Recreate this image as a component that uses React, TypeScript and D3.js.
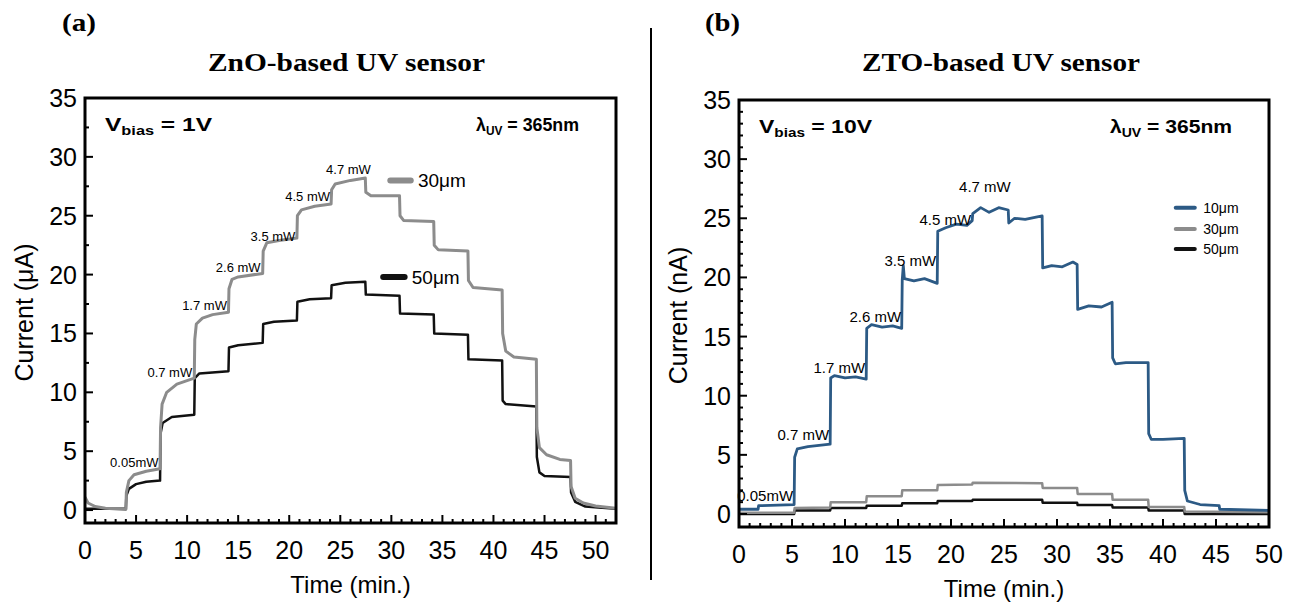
import React from 'react';
import * as d3 from 'd3';

const W = 1297;
const H = 612;

// tick values
const timeTicks = [0, 5, 10, 15, 20, 25, 30, 35, 40, 45, 50];
const currentTicks = [0, 5, 10, 15, 20, 25, 30, 35];

// (a) ZnO sensor, current in uA, [time min, current]
const zno30 = [
  [0, 1.1], [0.3, 0.6], [1, 0.3], [2, 0.15], [4, 0.05],
  [4.05, 1.5], [4.3, 2.5], [4.8, 3.0], [6, 3.3], [7.35, 3.5],
  [7.4, 7], [7.55, 9], [8, 10], [9, 10.7], [10.7, 11.2],
  [10.75, 14.5], [10.9, 15.8], [11.5, 16.3], [12.5, 16.6], [14.05, 16.8],
  [14.1, 18.8], [14.4, 19.6], [15, 19.8], [17.4, 20.1],
  [17.45, 22], [17.8, 22.7], [19, 22.9], [20.75, 23.1],
  [20.8, 25], [21.2, 25.5], [22.5, 25.8], [24.1, 26.0],
  [24.15, 27.2], [24.5, 27.7], [26, 28.0], [27.45, 28.2],
  [27.5, 27.0], [28, 26.7], [30.8, 26.7],
  [30.85, 25.0], [31.2, 24.6], [34.15, 24.5],
  [34.2, 22.5], [34.6, 22.1], [37.5, 22.0],
  [37.55, 19.5], [38, 18.9], [40.85, 18.7],
  [40.9, 15], [41.2, 13.5], [42, 13], [44.2, 12.8],
  [44.25, 7], [44.5, 5.3], [45.2, 4.7], [46.5, 4.3], [47.55, 4.2],
  [47.6, 2], [48, 1.0], [48.8, 0.6], [50, 0.35], [52, 0.15],
];
const zno50 = [
  [0, 0.1], [4.0, 0.1], [4.05, 1.2], [4.3, 1.8], [5, 2.2], [6, 2.4], [7.35, 2.5],
  [7.4, 6.5], [7.6, 7.4], [8.5, 7.9], [10.7, 8.1],
  [10.75, 11.2], [11.2, 11.6], [14.05, 11.8],
  [14.1, 13.8], [15, 14.0], [17.4, 14.2],
  [17.45, 15.8], [18.5, 16.0], [20.75, 16.1],
  [20.8, 17.7], [22, 17.9], [24.1, 18.0],
  [24.15, 19.1], [25.5, 19.3], [27.45, 19.4],
  [27.5, 18.3], [30.8, 18.2],
  [30.85, 16.7], [34.15, 16.6],
  [34.2, 15], [37.5, 14.9],
  [37.55, 12.8], [40.85, 12.7],
  [40.9, 9.3], [41.2, 9.0], [44.2, 8.8],
  [44.25, 4.5], [44.5, 3.2], [45, 2.9], [47.55, 2.8],
  [47.6, 1.5], [48, 0.7], [49, 0.3], [52, 0.1],
];
// power labels: [text, time of right end, current]
const znoPower = [
  ['0.05mW', 7.2, 4.0], ['0.7 mW', 10.5, 11.6], ['1.7 mW', 13.9, 17.3],
  ['2.6 mW', 17.2, 20.6], ['3.5 mW', 20.6, 23.2], ['4.5 mW', 24.0, 26.6],
];
const znoPeak = ['4.7 mW', 25.8, 28.9];

// (b) ZTO sensor, current in nA
const zto10 = [
  [0, 0.4], [1.8, 0.4], [1.85, 0.7], [5.2, 0.8],
  [5.25, 4.8], [5.5, 5.5], [6.5, 5.7], [8.6, 5.9],
  [8.65, 11.5], [9, 11.7], [10, 11.5], [11, 11.6], [12.0, 11.4],
  [12.05, 15.7], [12.5, 16.0], [13.5, 15.8], [14.5, 15.9], [15.35, 15.7],
  [15.4, 19.8], [15.5, 21.0], [15.6, 19.9], [16.5, 19.7], [17.5, 19.9], [18.7, 19.5],
  [18.75, 23.9], [19.5, 24.2], [20.5, 24.5], [21.5, 24.4], [22.0, 24.8],
  [22.05, 25.4], [22.8, 25.9], [23.6, 25.5], [24.5, 25.9], [25.4, 25.7],
  [25.45, 24.6], [26, 25.0], [27, 24.9], [28.6, 25.2],
  [28.65, 20.8], [29.5, 21.0], [30.5, 20.9], [31.5, 21.3], [31.9, 21.1],
  [31.95, 17.3], [33, 17.6], [34.2, 17.5], [35.2, 17.9],
  [35.25, 13.2], [35.5, 12.7], [36.5, 12.8], [38.6, 12.8],
  [38.65, 6.8], [38.9, 6.3], [40, 6.3], [42.0, 6.4],
  [42.05, 2], [42.3, 1.1], [43.5, 0.8], [45.3, 0.7],
  [45.35, 0.4], [50, 0.3],
];
const zto30 = [
  [0, 0.1], [5.2, 0.1], [5.25, 0.5], [8.6, 0.55], [8.65, 1.0], [12.0, 1.0],
  [12.05, 1.5], [15.35, 1.5], [15.4, 2.0], [18.7, 2.0], [18.75, 2.45], [22.0, 2.5],
  [22.05, 2.65], [28.6, 2.6], [28.65, 2.2], [31.9, 2.2], [31.95, 1.7], [35.2, 1.7],
  [35.25, 1.2], [38.6, 1.2], [38.65, 0.6], [42.0, 0.6], [42.05, 0.2], [50, 0.15],
];
const zto50 = [
  [0, 0.0], [5.2, 0.0], [5.25, 0.3], [8.6, 0.3], [8.65, 0.5], [12.0, 0.5],
  [12.05, 0.7], [15.35, 0.7], [15.4, 0.9], [18.7, 0.9], [18.75, 1.1], [22.0, 1.1],
  [22.05, 1.2], [28.6, 1.2], [28.65, 0.95], [31.9, 0.95], [31.95, 0.75], [35.2, 0.75],
  [35.25, 0.55], [38.6, 0.55], [38.65, 0.3], [42.0, 0.3], [42.05, 0.0], [50, 0.0],
];
const ztoPower = [
  ['0.05mW', 5.1, 1.4], ['0.7 mW', 8.5, 6.6], ['1.7 mW', 11.9, 12.3],
  ['2.6 mW', 15.3, 16.6], ['3.5 mW', 18.6, 21.3], ['4.5 mW', 21.9, 24.8],
];
const ztoPeak = ['4.7 mW', 23.2, 27.6];

const GRAY = '#8c8c8c';
const BLACK = '#111';
const BLUE = '#2c5a85';

const sans = "'Liberation Sans', Arial, sans-serif";
const serif = "'Liberation Serif', 'Times New Roman', serif";

type Series = { data: number[][]; color: string; width: number };

function Panel({ id, left, right, top, bottom, xMax, yMinorStep, series, power, peak, powerSize, vbias, vbiasLen, lambdaLen, unit, children }: any) {
  const x = d3.scaleLinear().domain([0, xMax]).range([left, right]);
  const y = d3.scaleLinear().domain([-1.1, 35]).range([bottom, top]);
  const line = d3.line<number[]>().x((d) => x(d[0])).y((d) => y(d[1]));
  const xMinor = d3.range(0, xMax + 0.001, 1).filter((v) => v % 5 !== 0);
  const yMinor = d3.range(0, 35, yMinorStep).filter((v) => v % 5 !== 0);
  const midX = (left + right) / 2;
  return (
    <g>
      <defs>
        <clipPath id={id}>
          <rect x={left} y={top} width={right - left} height={bottom - top} />
        </clipPath>
      </defs>
      <g clipPath={`url(#${id})`}>
        {series.map((s: Series, i: number) => (
          <path key={i} d={line(s.data) || ''} fill="none" stroke={s.color} strokeWidth={s.width} strokeLinejoin="round" />
        ))}
      </g>
      {/* ticks */}
      {timeTicks.filter((t) => t <= xMax).map((t) => (
        <g key={t}>
          <line x1={x(t)} x2={x(t)} y1={bottom} y2={bottom - 8} stroke="#000" strokeWidth={2} />
          <text x={x(t)} y={bottom + 36} textAnchor="middle" fontFamily={sans} fontSize={25}>{t}</text>
        </g>
      ))}
      {xMinor.map((t) => (
        <line key={t} x1={x(t)} x2={x(t)} y1={bottom} y2={bottom - 4} stroke="#000" strokeWidth={2} />
      ))}
      {currentTicks.map((v) => (
        <g key={v}>
          <line x1={left} x2={left + 8} y1={y(v)} y2={y(v)} stroke="#000" strokeWidth={2} />
          <text x={left - 8} y={y(v) + 9} textAnchor="end" fontFamily={sans} fontSize={25}>{v}</text>
        </g>
      ))}
      {yMinor.map((v) => (
        <line key={v} x1={left} x2={left + 4} y1={y(v)} y2={y(v)} stroke="#000" strokeWidth={2} />
      ))}
      <rect x={left} y={top} width={right - left} height={bottom - top} fill="none" stroke="#000" strokeWidth={3} />
      {/* power labels */}
      {power.map((p: any) => (
        <text key={p[0]} x={x(p[1])} y={y(p[2]) + 4} textAnchor="end" fontFamily={sans} fontSize={powerSize}>{p[0]}</text>
      ))}
      <text x={x(peak[1])} y={y(peak[2]) + 4} textAnchor="middle" fontFamily={sans} fontSize={powerSize}>{peak[0]}</text>
      {/* annotations */}
      <text x={left + 20} y={top + 33} fontFamily={sans} fontSize={18} fontWeight="bold" textLength={vbiasLen} lengthAdjust="spacingAndGlyphs">
        V<tspan fontSize={12} dy={4}>bias</tspan><tspan dy={-4}> = {vbias}</tspan>
      </text>
      <text x={right - 37 - lambdaLen} y={top + 33} fontFamily={sans} fontSize={18} fontWeight="bold" textLength={lambdaLen} lengthAdjust="spacingAndGlyphs">
        λ<tspan fontSize={12} dy={4}>UV</tspan><tspan dy={-4}> = 365nm</tspan>
      </text>
      <text x={midX} y={bottom + 70} textAnchor="middle" fontFamily={sans} fontSize={24}>Time (min.)</text>
      <text transform={`translate(${left - 52},${(top + bottom) / 2 + 2}) rotate(-90)`} textAnchor="middle" fontFamily={sans} fontSize={25}>
        Current ({unit})
      </text>
      {children && children(x, y)}
    </g>
  );
}

export default function App() {
  return (
    <svg width={W} height={H} viewBox={`0 0 ${W} ${H}`} style={{ position: 'absolute', left: 0, top: 0, background: '#fff' }}>
      <rect width={W} height={H} fill="#fff" />
      <text x={62} y={31} fontFamily={serif} fontSize={26} fontWeight="bold" textLength={34} lengthAdjust="spacingAndGlyphs">(a)</text>
      <text x={705} y={31} fontFamily={serif} fontSize={26} fontWeight="bold" textLength={35} lengthAdjust="spacingAndGlyphs">(b)</text>
      <text x={208} y={71} fontFamily={serif} fontSize={26} fontWeight="bold" textLength={277} lengthAdjust="spacingAndGlyphs">ZnO-based UV sensor</text>
      <text x={862} y={71} fontFamily={serif} fontSize={26} fontWeight="bold" textLength={278} lengthAdjust="spacingAndGlyphs">ZTO-based UV sensor</text>
      <line x1={651} x2={651} y1={28} y2={580} stroke="#000" strokeWidth={2} />

      <Panel
        id="clipA" left={85} right={616} top={98} bottom={523} xMax={52} yMinorStep={2.5}
        series={[{ data: zno50, color: BLACK, width: 2.5 }, { data: zno30, color: GRAY, width: 3 }]}
        power={znoPower} peak={znoPeak} powerSize={13} vbias="1V" vbiasLen={107} lambdaLen={103} unit="μA"
      >
        {(x: any, y: any) => (
          <g fontFamily={sans} fontSize={19}>
            <line x1={x(29.9)} x2={x(31.9)} y1={y(28)} y2={y(28)} stroke={GRAY} strokeWidth={6} strokeLinecap="round" />
            <text x={x(32.6)} y={y(28) + 7}>30μm</text>
            <line x1={x(29.2)} x2={x(31.3)} y1={y(19.8)} y2={y(19.8)} stroke={BLACK} strokeWidth={6} strokeLinecap="round" />
            <text x={x(32.0)} y={y(19.8) + 7}>50μm</text>
          </g>
        )}
      </Panel>

      <Panel
        id="clipB" left={739} right={1269} top={100} bottom={527} xMax={50} yMinorStep={1}
        series={[{ data: zto50, color: BLACK, width: 2.5 }, { data: zto30, color: GRAY, width: 2.5 }, { data: zto10, color: BLUE, width: 2.8 }]}
        power={ztoPower} peak={ztoPeak} powerSize={15} vbias="10V" vbiasLen={113} lambdaLen={122} unit="nA"
      >
        {(x: any, y: any) => (
          <g fontFamily={sans} fontSize={14}>
            {[['10μm', BLUE, 25.9], ['30μm', GRAY, 24.1], ['50μm', BLACK, 22.4]].map((d: any) => (
              <g key={d[0]}>
                <line x1={x(41.2)} x2={x(43.0)} y1={y(d[2])} y2={y(d[2])} stroke={d[1]} strokeWidth={4} strokeLinecap="round" />
                <text x={x(43.8)} y={y(d[2]) + 5}>{d[0]}</text>
              </g>
            ))}
          </g>
        )}
      </Panel>
    </svg>
  );
}
